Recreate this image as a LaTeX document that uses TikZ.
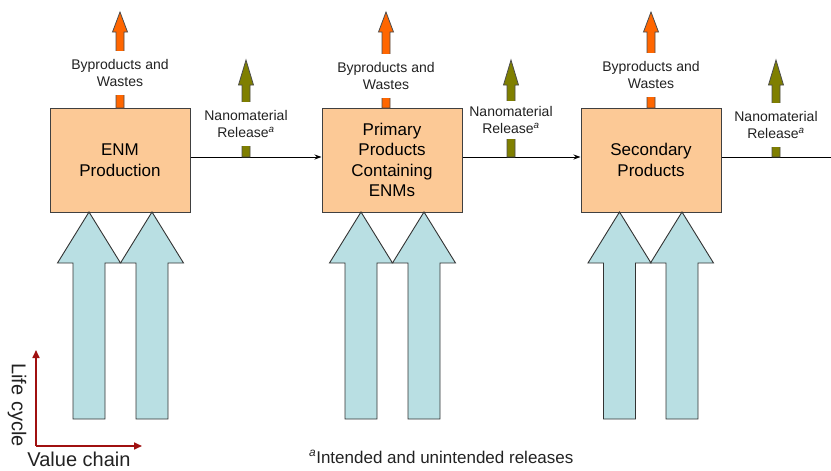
\documentclass[tikz,border=0pt]{standalone}
\usepackage{fontspec}
\setmainfont{Liberation Sans}
\usetikzlibrary{arrows.meta}
\definecolor{boxpeach}{HTML}{FCC996}
\definecolor{wasteorange}{HTML}{FF6600}
\definecolor{releaseolive}{HTML}{7F7F00}
\definecolor{inputblue}{HTML}{B9DFE3}
\definecolor{axisred}{HTML}{A01010}
\definecolor{inktext}{HTML}{222222}
% block arrow: style, x, y of foot, y of tip, shaft half width, head half width, head length
\newcommand{\blockarrow}[7]{\draw[#1] ({#2-#5},#3) -- ({#2-#5},{#4+#7}) -- ({#2-#6},{#4+#7}) -- (#2,#4) -- ({#2+#6},{#4+#7}) -- ({#2+#5},{#4+#7}) -- ({#2+#5},#3) -- cycle;}

\begin{document}
\begin{tikzpicture}[x=1pt,y=-1pt,line join=miter,
  stage/.style={draw=black!75,line width=1pt,fill=boxpeach,minimum width=140pt,minimum height=104pt,
    inner sep=0pt,align=center,text=black,font=\fontsize{17}{20.5}\selectfont},
  outlabel/.style={fill=white,inner sep=0pt,minimum height=44pt,align=center,text=inktext,
    font=\fontsize{14}{16.8}\selectfont},
  wastearrow/.style={draw=black!70,line width=0.8pt,fill=wasteorange},
  releasearrow/.style={draw=black!70,line width=0.8pt,fill=releaseolive},
  inputarrow/.style={draw=black!80,line width=0.9pt,fill=inputblue},
  flowline/.style={draw=black,line width=0.9pt},
  axisline/.style={draw=axisred,line width=1.6pt,-{Triangle[length=8pt,width=7pt]}}]
\useasboundingbox (0,0) rectangle (831,471);

% ---- stages
\node[stage] (enm)  at (120,160) {ENM\\Production};
\node[stage] (prim) at (392,160) {Primary\\Products\\Containing\\ENMs};
\node[stage] (sec)  at (651,160) {Secondary\\Products};
\coordinate (exit) at (831,157);

% ---- flow along the value chain
\draw[flowline,-{Stealth[length=7pt,width=5pt]}] ([yshift=3pt]enm.east) -- ([yshift=3pt]prim.west);
\draw[flowline,-{Stealth[length=7pt,width=5pt]}] ([yshift=3pt]prim.east) -- ([yshift=3pt]sec.west);
\draw[flowline] ([yshift=3pt]sec.east) -- (exit);

% ---- inputs from below
\blockarrow{inputarrow}{89}{419}{212}{16}{31.5}{51}
\blockarrow{inputarrow}{152}{419}{212}{16}{31.5}{51}
\blockarrow{inputarrow}{361}{419}{212}{16}{31.5}{51}
\blockarrow{inputarrow}{424}{419}{212}{16}{31.5}{51}
\blockarrow{inputarrow}{619.5}{419}{212}{16}{31.5}{51}
\blockarrow{inputarrow}{682}{419}{212}{16}{31.5}{51}

% ---- byproducts and wastes
\blockarrow{wastearrow}{120}{108}{12}{4}{7.5}{20}
\blockarrow{wastearrow}{386}{108}{12}{4}{7.5}{20}
\blockarrow{wastearrow}{651}{108}{12}{4}{7.5}{20}
\node[outlabel] (waste1) at (120,73) {Byproducts and\\Wastes};
\node[outlabel] (waste2) at (386,76) {Byproducts and\\Wastes};
\node[outlabel] (waste3) at (651,75) {Byproducts and\\Wastes};

% ---- nanomaterial release
\blockarrow{releasearrow}{246}{157}{60}{4}{7.5}{25}
\blockarrow{releasearrow}{511}{157}{60}{4}{7.5}{25}
\blockarrow{releasearrow}{776}{157}{60}{4}{7.5}{25}
\node[outlabel] (release1) at (246,124) {Nanomaterial\\Release\textsuperscript{\itshape a}};
\node[outlabel,minimum height=38pt] (release2) at (511,120) {Nanomaterial\\Release\textsuperscript{\itshape a}};
\node[outlabel] (release3) at (776,125) {Nanomaterial\\Release\textsuperscript{\itshape a}};

% ---- axes
\coordinate (origin) at (36,446);
\coordinate (lifetop) at (36,350);
\coordinate (valueend) at (142,446);
\draw[axisline] (origin) -- (lifetop);
\draw[axisline] (origin) -- (valueend);
\node[rotate=-90,text=inktext,font=\fontsize{20}{24}\selectfont] (lifecycle) at (17,405) {Life cycle};
\node[anchor=base,text=inktext,font=\fontsize{20}{24}\selectfont] (valuechain) at (79,466.5) {Value chain};

% ---- footnote
\node[anchor=base west,inner sep=0pt,text=inktext,font=\fontsize{17}{20}\selectfont] (footnote) at (309,463)
  {\textsuperscript{\itshape a}Intended and unintended releases};
\end{tikzpicture}
\end{document}
